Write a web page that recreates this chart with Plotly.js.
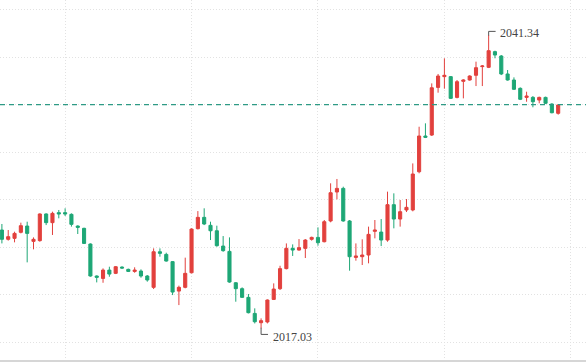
<!DOCTYPE html>
<html>
<head>
<meta charset="utf-8">
<script src="https://cdn.plot.ly/plotly-3.0.1.min.js"></script>
<style>html,body{margin:0;padding:0;background:#fff;}#chart{width:586px;height:364px;}</style>
</head>
<body>
<div id="chart"></div>
<script>
const openP = [2025.18,2024.41,2024.49,2024.99,2025.51,2024.24,2024.30,2026.51,2025.79,2026.62,2026.62,2026.48,2025.51,2025.32,2024.02,2021.37,2021.17,2021.86,2021.59,2022.11,2021.92,2021.75,2021.78,2021.37,2020.43,2023.38,2023.16,2022.56,2020.12,2020.43,2021.64,2025.29,2026.23,2025.57,2025.12,2023.85,2023.41,2020.81,2020.32,2019.60,2018.27,2017.50,2017.56,2019.43,2020.32,2021.98,2023.66,2023.52,2023.66,2024.41,2024.57,2024.21,2025.93,2028.33,2028.63,2025.93,2022.91,2022.97,2023.11,2025.07,2025.01,2024.35,2027.28,2026.09,2026.84,2026.84,2030.01,2032.97,2033.05,2037.00,2037.89,2037.89,2036.17,2037.50,2037.61,2038.00,2038.72,2038.66,2039.96,2039.60,2038.11,2037.61,2036.92,2036.17,2036.17,2035.95,2036.17,2035.62,2034.85];
const highP = [2025.68,2025.18,2025.04,2025.79,2025.87,2024.57,2026.56,2026.56,2026.70,2026.84,2026.98,2026.56,2025.57,2025.37,2024.07,2021.42,2022.00,2022.14,2022.20,2022.17,2021.98,2022.09,2021.92,2021.45,2023.66,2023.66,2023.30,2022.61,2020.57,2022.89,2025.32,2026.75,2026.98,2025.87,2025.54,2024.68,2024.57,2020.87,2020.43,2019.88,2018.69,2017.86,2019.43,2020.76,2022.22,2024.07,2023.99,2024.43,2024.43,2024.63,2025.40,2026.01,2029.05,2029.41,2028.77,2026.01,2024.07,2024.41,2025.46,2026.01,2026.09,2028.36,2028.22,2027.67,2027.75,2030.70,2033.74,2034.02,2037.33,2038.11,2039.41,2037.94,2037.61,2037.67,2038.00,2039.13,2038.85,2041.34,2040.04,2039.68,2038.44,2037.83,2037.00,2036.64,2036.28,2036.23,2036.23,2035.68,2035.62];
const lowP = [2024.07,2024.30,2024.16,2024.90,2022.50,2023.58,2024.21,2025.59,2024.77,2026.15,2026.34,2025.46,2024.85,2024.02,2021.31,2020.84,2020.81,2021.31,2021.53,2021.98,2021.70,2021.64,2021.23,2020.90,2020.29,2022.97,2022.56,2019.79,2018.96,2020.35,2021.59,2025.23,2025.59,2024.35,2023.80,2023.38,2020.81,2019.24,2019.57,2018.27,2017.44,2017.03,2017.44,2019.38,2020.21,2021.92,2023.03,2023.47,2022.86,2024.30,2023.88,2024.16,2025.82,2027.72,2025.87,2021.81,2022.64,2022.28,2022.42,2024.49,2023.85,2024.21,2025.32,2025.46,2026.67,2026.73,2029.88,2032.80,2032.97,2036.56,2036.89,2036.04,2036.09,2036.09,2037.56,2037.11,2037.11,2038.60,2039.41,2038.02,2037.56,2036.78,2035.95,2035.81,2035.35,2035.68,2035.62,2034.85,2034.74];
const closeP = [2024.41,2024.63,2024.90,2025.54,2024.90,2024.41,2026.51,2025.79,2026.56,2026.51,2026.51,2025.65,2025.40,2024.07,2021.37,2021.26,2021.86,2021.53,2022.14,2022.03,2021.75,2021.86,2021.37,2021.04,2023.38,2023.25,2022.61,2020.04,2020.43,2021.59,2025.26,2026.23,2025.68,2025.12,2023.88,2023.47,2020.87,2020.32,2019.60,2018.33,2017.58,2017.67,2019.38,2020.29,2021.98,2023.66,2023.52,2023.72,2024.35,2024.57,2024.13,2025.87,2028.27,2028.63,2025.93,2022.97,2023.03,2023.11,2024.82,2025.18,2024.35,2027.28,2026.09,2026.70,2027.06,2029.82,2032.97,2032.86,2036.97,2037.94,2038.00,2036.09,2037.47,2037.61,2037.94,2038.63,2038.77,2040.04,2039.68,2038.11,2037.61,2036.84,2036.01,2036.28,2035.81,2036.17,2035.68,2034.90,2035.54];
const refPrice = 2035.57;

const idx = openP.map((_, i) => i);
const hiVal = Math.max(...highP), hiIdx = highP.indexOf(hiVal);
const loVal = Math.min(...lowP), loIdx = lowP.indexOf(loVal);

const UP = '#e2403d', DOWN = '#1ea776';
const trace = {
  type: 'candlestick', x: idx, open: openP, high: highP, low: lowP, close: closeP,
  increasing: {line: {color: UP, width: 1}, fillcolor: UP},
  decreasing: {line: {color: DOWN, width: 1}, fillcolor: DOWN},
  whiskerwidth: 0, hoverinfo: 'skip', showlegend: false
};

const mk = '#555';
const layout = {
  width: 586, height: 364,
  margin: {l: 0, r: 0, t: 0, b: 4},
  paper_bgcolor: '#fff', plot_bgcolor: '#fff',
  showlegend: false,
  xaxis: {range: [-0.3, 92.4], showticklabels: false, ticks: '', tick0: 10, dtick: 20,
          showgrid: true, gridcolor: '#e2e2e2', griddash: '1px,2px', gridwidth: 1,
          zeroline: false, showline: true, linecolor: '#d6d6d6', linewidth: 1.5,
          rangeslider: {visible: false}, fixedrange: true},
  yaxis: {range: [2014.41, 2044.24], showticklabels: false, ticks: '', tick0: refPrice, dtick: 3.94,
          showgrid: true, gridcolor: '#e2e2e2', griddash: '1px,2px', gridwidth: 1,
          zeroline: false, showline: false, fixedrange: true},
  shapes: [
    {type: 'line', xref: 'paper', x0: 0, x1: 1, yref: 'y', y0: refPrice, y1: refPrice,
     line: {color: '#2e9a85', width: 1.3, dash: '5px,4px'}, layer: 'above'},
    {type: 'path', xref: 'x', yref: 'y', layer: 'above',
     path: `M ${hiIdx} ${hiVal - 0.05} L ${hiIdx} ${hiVal + 0.3} L ${hiIdx + 1.1} ${hiVal + 0.3}`,
     line: {color: mk, width: 1}},
    {type: 'path', xref: 'x', yref: 'y', layer: 'above',
     path: `M ${loIdx} ${loVal + 0.05} L ${loIdx} ${loVal - 0.5} L ${loIdx + 1.1} ${loVal - 0.5}`,
     line: {color: mk, width: 1}}
  ],
  annotations: [
    {x: hiIdx + 1.5, y: hiVal + 0.2, xref: 'x', yref: 'y', text: hiVal.toFixed(2), showarrow: false,
     xanchor: 'left', yanchor: 'middle', font: {family: 'Liberation Serif, serif', size: 12, color: '#444'}},
    {x: loIdx + 1.6, y: loVal - 0.7, xref: 'x', yref: 'y', text: loVal.toFixed(2), showarrow: false,
     xanchor: 'left', yanchor: 'middle', font: {family: 'Liberation Serif, serif', size: 12, color: '#444'}}
  ]
};
Plotly.newPlot('chart', [trace], layout, {displayModeBar: false, staticPlot: true});
</script>
</body>
</html>
